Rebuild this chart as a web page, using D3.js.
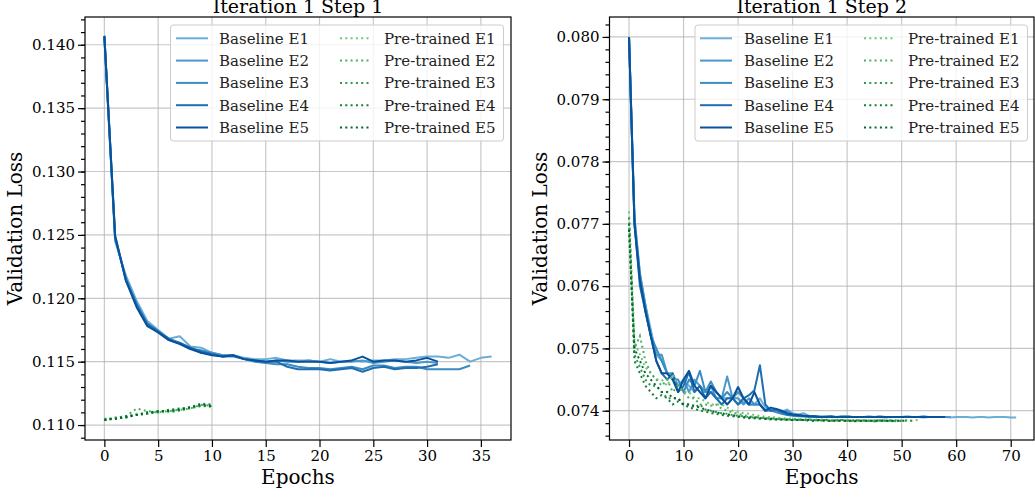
<!DOCTYPE html>
<html><head><meta charset="utf-8">
<script src="https://cdn.jsdelivr.net/npm/d3@7"></script>
<style>body{margin:0;background:#fff}svg{display:block}text{font-family:"DejaVu Serif",serif}</style>
</head><body><svg id="c" width="1035" height="497"></svg>
<script>
// ---------- DATA ----------
const seriesNames = ["E1","E2","E3","E4","E5"];
const blueColors = ["#6aaed6","#4a98c9","#3a8cc2","#1f6eb2","#08519c"];
const greenColors = ["#73c476","#4bb062","#2f974e","#157f3b","#00682a"];
const titles = ["Iteration 1 Step 1","Iteration 1 Step 2"];
const xLabel = "Epochs";
const yLabel = "Validation Loss";
const xTicksL = [0,5,10,15,20,25,30,35];
const yTicksL = [0.110,0.115,0.120,0.125,0.130,0.135,0.140];
const xTicksR = [0,10,20,30,40,50,60,70];
const yTicksR = [0.074,0.075,0.076,0.077,0.078,0.079,0.080];

// Step 1 baseline
const s1BaseE1 = [0.1406,0.1245,0.1218,0.1198,0.1182,0.1175,0.1168,0.1170,0.1162,0.1161,0.1157,0.1155,0.1155,0.1153,0.1152,0.1152,0.1153,0.1151,0.1151,0.1151,0.1150,0.1152,0.1150,0.1151,0.1150,0.1151,0.1151,0.1152,0.1152,0.1153,0.1154,0.1154,0.1153,0.11555,0.1150,0.1153,0.1154];
const s1BaseE2 = [0.1407,0.1250,0.1214,0.1196,0.1179,0.1173,0.1167,0.1164,0.1160,0.1159,0.1157,0.1155,0.1155,0.1152,0.1151,0.1150,0.1151,0.1150,0.1150,0.1151,0.1150,0.1149,0.1150,0.1150,0.1151,0.1149,0.1150,0.1151,0.1150,0.1149,0.1150,0.1149];
const s1BaseE3 = [0.1406,0.1247,0.1216,0.1194,0.1179,0.1174,0.1168,0.1164,0.1161,0.1157,0.1156,0.1154,0.1154,0.1152,0.1150,0.1149,0.1148,0.1148,0.1146,0.1145,0.1145,0.1144,0.1145,0.1146,0.1144,0.1147,0.1147,0.1145,0.1146,0.1146,0.1144,0.1144,0.1144,0.1144,0.1147];
const s1BaseE4 = [0.1407,0.1248,0.1215,0.1195,0.1180,0.1174,0.1168,0.1165,0.1161,0.1158,0.1156,0.1154,0.1155,0.1152,0.1151,0.1150,0.1150,0.1146,0.1144,0.1144,0.1144,0.1143,0.1144,0.1145,0.1142,0.1145,0.1146,0.1144,0.1145,0.1145,0.1146,0.1148];
const s1BaseE5 = [0.1407,0.1249,0.1214,0.1193,0.1178,0.1173,0.1167,0.1164,0.1160,0.1157,0.1155,0.1154,0.1155,0.1152,0.1151,0.1150,0.1151,0.1151,0.1150,0.1150,0.1150,0.1149,0.1150,0.1151,0.1154,0.1150,0.1151,0.1151,0.1150,0.1151,0.1153,0.1150];
// Step 1 pre-trained
const s1PreE1 = [0.1104,0.1105,0.1107,0.1109,0.1109,0.1110,0.1110,0.1111,0.1113,0.1115,0.1114];
const s1PreE2 = [0.1104,0.1106,0.1107,0.1113,0.1111,0.1110,0.1111,0.1112,0.1113,0.1116,0.1115];
const s1PreE3 = [0.1105,0.1105,0.1106,0.1108,0.1110,0.1111,0.1111,0.1112,0.1114,0.1115,0.1115];
const s1PreE4 = [0.1104,0.1105,0.1107,0.1108,0.1110,0.1110,0.1112,0.1113,0.1114,0.1117,0.1116];
const s1PreE5 = [0.1104,0.1105,0.1106,0.1108,0.1109,0.1111,0.1111,0.1112,0.1114,0.1116,0.1115];

// Step 2 baseline
const s2BaseE1 = [0.0800,0.0771,0.0762,0.0757,0.0753,0.0749,0.0748,0.0746,0.0745,0.0744,0.0745,0.0744,0.0743,0.0744,0.0743,0.0743,0.0742,0.0742,0.0742,0.0742,0.0741,0.07415,0.0741,0.0741,0.0742,0.07405,0.0740,0.0740,0.07398,0.07402,
 0.07396,0.07394,0.07396,0.07392,0.07391,0.07391,0.07390,0.07391,0.07390,0.07390,0.07391,0.07390,0.07390,0.07390,0.07391,0.07390,0.07390,0.07389,0.07390,0.07390,0.07390,0.07391,0.07390,0.07390,0.07389,0.07390,0.07390,0.07390,0.07390,0.07389,0.07390,0.07390,0.07390,0.07389,0.07390,0.07390,0.07389,0.07390,0.07390,0.07390,0.07389,0.07389];
const s2BaseE2 = [0.0800,0.0770,0.0761,0.0756,0.0752,0.0749,0.0749,0.0746,0.0746,0.0744,0.0745,0.0743,0.0745,0.0744,0.0743,0.0744,0.0742,0.0742,0.07455,0.0742,0.0742,0.0741,0.0742,0.0741,0.0741,0.0740,0.0740,0.07398,0.07396,0.07400,
 0.07394,0.07393,0.07392,0.07391,0.07391,0.07390,0.07391,0.07390,0.07390,0.07390,0.07391,0.07390,0.07390,0.07390,0.07390,0.07390,0.07391,0.07390,0.07390,0.07390,0.07390,0.07390,0.07390,0.07390,0.07391,0.07390,0.07390,0.07390,0.07390,0.07390];
const s2BaseE3 = [0.0800,0.0771,0.0762,0.0757,0.0752,0.0750,0.0748,0.0746,0.0745,0.0745,0.0743,0.0745,0.0744,0.07464,0.0743,0.07447,0.0743,0.0742,0.0743,0.0742,0.0743,0.0742,0.0741,0.0741,0.0741,0.0740,0.07402,0.07398,0.07395,0.07393,
 0.07392,0.07391,0.07391,0.07390,0.07391,0.07390,0.07390,0.07390,0.07390,0.07391,0.07390,0.07390,0.07390,0.07390,0.07390,0.07390,0.07390,0.07390,0.07390,0.07390,0.07390,0.07390,0.07390];
const s2BaseE4 = [0.0800,0.0770,0.0760,0.0756,0.0752,0.0748,0.0746,0.0745,0.0746,0.0743,0.0744,0.07462,0.0743,0.0744,0.0742,0.0743,0.0742,0.0741,0.0742,0.0742,0.0741,0.0742,0.07425,0.07433,0.07473,0.0741,0.0740,0.07402,0.07398,0.07394,
 0.07393,0.07392,0.07391,0.07391,0.07390,0.07390,0.07390,0.07391,0.07390,0.07390,0.07390,0.07390,0.07390,0.07390,0.07390,0.07390,0.07390,0.07390,0.07390,0.07390,0.07390,0.07390,0.07390,0.07390,0.07390,0.07390,0.07390];
const s2BaseE5 = [0.0800,0.0770,0.0761,0.0756,0.0752,0.0748,0.0746,0.0746,0.0745,0.0743,0.0745,0.07464,0.0744,0.0743,0.0742,0.0744,0.0743,0.0742,0.0741,0.0742,0.07438,0.0742,0.0741,0.07430,0.0741,0.0740,0.07405,0.07403,0.0740,0.07396,
 0.07394,0.07393,0.07392,0.07391,0.07391,0.07390,0.07390,0.07390,0.07390,0.07390,0.07390,0.07390,0.07390,0.07390,0.07390,0.07390,0.07390,0.07390,0.07390,0.07390,0.07390,0.07390,0.07390,0.07390,0.07390,0.07390,0.07390,0.07390,0.07390];
// Step 2 pre-trained
const s2PreE1 = [0.0772,0.0751,0.0749,0.0747,0.0746,0.0745,0.0745,0.0744,0.07458,0.0744,0.0743,0.0743,0.0742,0.0742,0.07415,0.0741,0.0741,0.0741,0.07405,0.0740,0.07398,0.07396,0.07395,0.07393,0.07392,0.07390,0.07390,0.07389,0.07388,0.07388,0.07387,0.07387,0.07387,0.07386,0.07386,0.07386,0.07386,0.07385,0.07386,0.07385,0.07385,0.07385,0.07385,0.07385,0.07384,0.07385,0.07385,0.07384,0.07385,0.07385,0.07384,0.07385,0.07384,0.07385];
const s2PreE2 = [0.0770,0.0750,0.0752,0.0748,0.0746,0.0745,0.0744,0.0745,0.0743,0.0744,0.0743,0.0742,0.0742,0.0741,0.0741,0.07408,0.0741,0.07403,0.07400,0.07397,0.07395,0.07393,0.07391,0.07390,0.07389,0.07388,0.07388,0.07387,0.07387,0.07386,0.07386,0.07386,0.07385,0.07386,0.07385,0.07385,0.07385,0.07384,0.07385,0.07385,0.07384,0.07384,0.07385,0.07384,0.07384,0.07384,0.07385,0.07384,0.07384,0.07384,0.07384];
const s2PreE3 = [0.0771,0.0749,0.0747,0.0745,0.0744,0.0744,0.0743,0.0742,0.0742,0.0742,0.0741,0.0741,0.07405,0.0741,0.07402,0.07400,0.07398,0.07396,0.07395,0.07393,0.07392,0.07391,0.07390,0.07389,0.07389,0.07388,0.07387,0.07387,0.07386,0.07386,0.07386,0.07385,0.07385,0.07385,0.07385,0.07384,0.07385,0.07384,0.07384,0.07385,0.07384,0.07384,0.07384,0.07384,0.07384,0.07383,0.07384,0.07384,0.07384,0.07383,0.07384,0.07384,0.07384];
const s2PreE4 = [0.0770,0.0748,0.0746,0.0744,0.0743,0.0742,0.07425,0.0742,0.0741,0.07415,0.0741,0.07405,0.07403,0.07400,0.07399,0.07396,0.07395,0.07393,0.07392,0.07391,0.07390,0.07389,0.07388,0.07388,0.07387,0.07387,0.07386,0.07386,0.07386,0.07385,0.07385,0.07385,0.07385,0.07384,0.07384,0.07385,0.07384,0.07384,0.07384,0.07384,0.07384,0.07383,0.07384,0.07384,0.07384,0.07383,0.07384,0.07384,0.07384,0.07384];
const s2PreE5 = [0.0769,0.0750,0.0748,0.0746,0.0745,0.0744,0.0743,0.0743,0.0742,0.0742,0.0741,0.0741,0.07408,0.07405,0.07402,0.07400,0.07397,0.07396,0.07394,0.07393,0.07391,0.07390,0.07389,0.07389,0.07388,0.07387,0.07387,0.07386,0.07386,0.07386,0.07385,0.07385,0.07385,0.07385,0.07384,0.07385,0.07384,0.07384,0.07384,0.07384,0.07384,0.07384,0.07383,0.07384,0.07384,0.07384,0.07384,0.07384,0.07383,0.07384,0.07384,0.07384];

// ---------- DRAW ----------
const svg = d3.select("#c");
svg.append("rect").attr("width",1035).attr("height",497).attr("fill","#fff");

const panels = [
  {title:titles[0], xDom:[-1.8,37.8], xRange:[85,511], yDom:[0.10882,0.14219], xTicks:xTicksL, yTicks:yTicksL, yMinorStep:0.001,
   base:[s1BaseE1,s1BaseE2,s1BaseE3,s1BaseE4,s1BaseE5], pre:[s1PreE1,s1PreE2,s1PreE3,s1PreE4,s1PreE5],
   legend:{x0:170.5,x1:503.5,h1:[176,208],t1:219,h2:[340,371],t2:384}, yLabelX:22},
  {title:titles[1], xDom:[-3.58,74.27], xRange:[609.5,1034], yDom:[0.07353,0.08032], xTicks:xTicksR, yTicks:yTicksR, yMinorStep:0.0002,
   base:[s2BaseE1,s2BaseE2,s2BaseE3,s2BaseE4,s2BaseE5], pre:[s2PreE1,s2PreE2,s2PreE3,s2PreE4,s2PreE5],
   legend:{x0:695,x1:1027.5,h1:[700,732],t1:744,h2:[864,895],t2:908}, yLabelX:547}
];
const yRange=[440,17];

panels.forEach(p=>{
  const x=d3.scaleLinear().domain(p.xDom).range(p.xRange);
  const y=d3.scaleLinear().domain(p.yDom).range(yRange);
  const g=svg.append("g");
  const [L,R]=p.xRange;
  // grid
  g.selectAll(".gx").data(p.xTicks).join("line")
    .attr("x1",d=>x(d)).attr("x2",d=>x(d)).attr("y1",yRange[1]).attr("y2",yRange[0])
    .attr("stroke","#b0b0b0").attr("stroke-width",1.2).attr("stroke-opacity",0.7);
  g.selectAll(".gy").data(p.yTicks).join("line")
    .attr("x1",L).attr("x2",R).attr("y1",d=>y(d)).attr("y2",d=>y(d))
    .attr("stroke","#b0b0b0").attr("stroke-width",1.2).attr("stroke-opacity",0.7);
  // minor y ticks
  const minor=[];
  for(let v=Math.ceil(p.yDom[0]/p.yMinorStep)*p.yMinorStep; v<=p.yDom[1]; v+=p.yMinorStep) minor.push(v);
  // lines
  const line=d3.line().x((d,i)=>x(i)).y(d=>y(d));
  const clipId="clip"+L;
  svg.append("clipPath").attr("id",clipId).append("rect").attr("x",L).attr("y",yRange[1]).attr("width",R-L).attr("height",yRange[0]-yRange[1]);
  const lg=g.append("g").attr("clip-path","url(#"+clipId+")");
  p.base.forEach((s,k)=>{
    lg.append("path").attr("d",line(s)).attr("fill","none").attr("stroke",blueColors[k]).attr("stroke-width",2).attr("stroke-linejoin","round");
  });
  p.pre.forEach((s,k)=>{
    lg.append("path").attr("d",line(s)).attr("fill","none").attr("stroke",greenColors[k]).attr("stroke-width",2).attr("stroke-dasharray","2,3.3");
  });
  // axes
  const xa=d3.axisBottom(x).tickValues(p.xTicks).tickFormat(d3.format("d")).tickSize(7).tickPadding(3);
  const ya=d3.axisLeft(y).tickValues(p.yTicks).tickFormat(d3.format(".3f")).tickSize(7).tickPadding(3);
  const yam=d3.axisLeft(y).tickValues(minor).tickFormat("").tickSize(4);
  const gx=g.append("g").attr("transform",`translate(0,${yRange[0]})`).call(xa);
  const gy=g.append("g").attr("transform",`translate(${L},0)`).call(ya);
  const gym=g.append("g").attr("transform",`translate(${L},0)`).call(yam);
  [gx,gy,gym].forEach(a=>{a.select(".domain").remove();a.selectAll("line").attr("stroke","#000").attr("stroke-width",1.2);
    a.selectAll("text").attr("font-family","DejaVu Serif").attr("font-size",15).attr("fill","#000");});
  // frame
  g.append("rect").attr("x",L).attr("y",yRange[1]).attr("width",R-L).attr("height",yRange[0]-yRange[1])
    .attr("fill","none").attr("stroke","#000").attr("stroke-width",1.2);
  // title & labels
  g.append("text").attr("x",(L+R)/2).attr("y",13).attr("text-anchor","middle").attr("font-size",19).text(p.title);
  g.append("text").attr("x",(L+R)/2).attr("y",484).attr("text-anchor","middle").attr("font-size",20).text(xLabel);
  g.append("text").attr("transform",`translate(${p.yLabelX},${(yRange[0]+yRange[1])/2}) rotate(-90)`).attr("text-anchor","middle").attr("font-size",20).text(yLabel);
  // legend
  const lgd=p.legend;
  g.append("rect").attr("x",lgd.x0).attr("y",25).attr("width",lgd.x1-lgd.x0).attr("height",116).attr("rx",3)
    .attr("fill","#fff").attr("fill-opacity",0.8).attr("stroke","#cccccc").attr("stroke-width",1);
  seriesNames.forEach((n,k)=>{
    const yy=38.3+k*22.3;
    g.append("line").attr("x1",lgd.h1[0]).attr("x2",lgd.h1[1]).attr("y1",yy).attr("y2",yy).attr("stroke",blueColors[k]).attr("stroke-width",2);
    g.append("text").attr("x",lgd.t1).attr("y",yy+5.3).attr("font-size",15).attr("fill","#222").text("Baseline "+n);
    g.append("line").attr("x1",lgd.h2[0]).attr("x2",lgd.h2[1]).attr("y1",yy).attr("y2",yy).attr("stroke",greenColors[k]).attr("stroke-width",2).attr("stroke-dasharray","2,3.3");
    g.append("text").attr("x",lgd.t2).attr("y",yy+5.3).attr("font-size",15).attr("fill","#222").text("Pre-trained "+n);
  });
});
</script></body></html>
